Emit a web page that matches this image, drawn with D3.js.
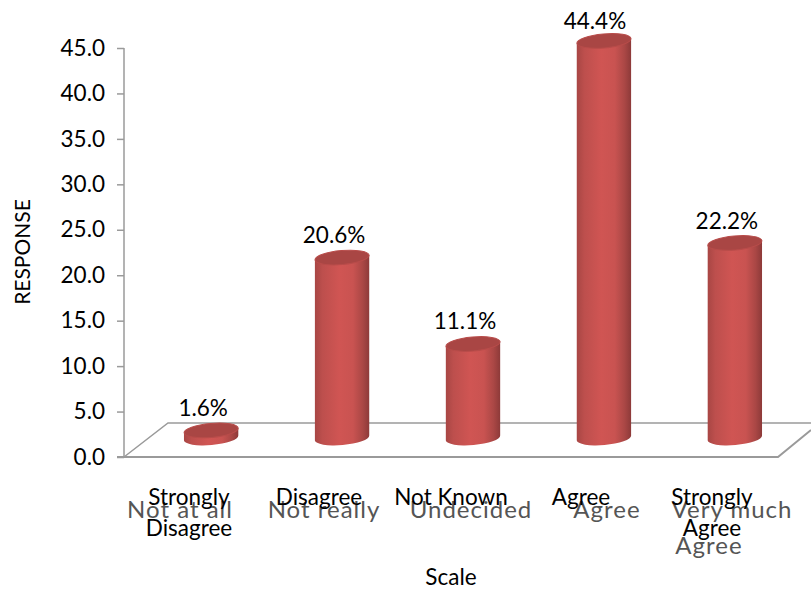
<!DOCTYPE html>
<html><head><meta charset="utf-8"><script src="https://cdn.jsdelivr.net/npm/d3@7"></script>
<style>html,body{margin:0;background:#fff}svg{display:block}text{font-family:Lato,"Open Sans",sans-serif}</style></head>
<body><svg id="c" width="811" height="592"></svg>
<script>
const categories=["Strongly Disagree","Disagree","Not Known","Agree","Strongly Agree"];
const values=[1.6,20.6,11.1,44.4,22.2];
const valueLabels=["1.6%","20.6%","11.1%","44.4%","22.2%"];
const tickValues=[0,5,10,15,20,25,30,35,40,45];
const categoryLines=[["Strongly","Disagree"],["Disagree"],["Not Known"],["Agree"],["Strongly","Agree"]];
const ghostLines=[["Not at all"],["Not really"],["Undecided"],["Agree"],["Very much","Agree"]];
const svg=d3.select("#c");
const y=d3.scaleLinear().domain([0,45]).range([457,48]);
const barY=d3.scaleLinear().domain([0,45]).range([445,35.5]);
const x=d3.scaleBand().domain(categories).range([146,800]).paddingInner(0.585).paddingOuter(0.29);
const defs=svg.append("defs");
const g=defs.append("linearGradient").attr("id","cyl");
[[0,"#a84644"],[.14,"#bd4f4d"],[.45,"#d05553"],[.7,"#c95351"],[.88,"#aa4745"],[1,"#8d3a39"]].forEach(s=>g.append("stop").attr("offset",s[0]).attr("stop-color",s[1]));
const fl=svg.append("g").attr("fill","none").attr("stroke","#9a9a9a");
fl.append("path").attr("stroke-width",1.5).attr("d","M124,457L168,423L811,423");
fl.append("path").attr("stroke-width",2).attr("d","M117,457L778,457L811,430");
const ax=svg.append("g").attr("transform","translate(124,0)").call(d3.axisLeft(y).tickValues(tickValues).tickFormat(d3.format(".1f")).tickSize(7).tickPadding(12));
ax.select(".domain").attr("stroke","#9a9a9a").attr("stroke-width",1.5).attr("d","M0,48V457");
ax.selectAll(".tick line").attr("stroke","#9a9a9a").attr("stroke-width",1.5);
ax.selectAll("text").attr("fill","#000").style("font-size","22.5px").style("font-family","Lato,sans-serif");
const w=x.bandwidth(),ry=7,tilt=-5;
const labelDx=[-8,-8,-8,-9,-8],labelDy=[14,15,15,12,14];
const bars=svg.selectAll(".bar").data(values).enter().append("g").attr("class","bar");
bars.each(function(v,i){
 const s=d3.select(this),cx=x(categories[i])+w/2,top=barY(v),base=barY(0)-7,rx=w/2,dy=rx*Math.tan(tilt*Math.PI/180);
 s.append("path").attr("fill","url(#cyl)").attr("d",`M${cx-rx},${top-dy}L${cx-rx},${base-dy}A${rx},${ry} ${tilt} 0 0 ${cx+rx},${base+dy}L${cx+rx},${top+dy}Z`);
 s.append("ellipse").attr("cx",cx).attr("cy",top).attr("rx",rx).attr("ry",ry).attr("fill","#a94644").attr("stroke","#b84c4a").attr("stroke-width",1).attr("transform",`rotate(${tilt} ${cx} ${top})`);
 svg.append("text").attr("x",cx+labelDx[i]).attr("y",top-labelDy[i]).attr("text-anchor","middle").style("font-size","22.5px").attr("fill","#000").text(valueLabels[i]);
});
const ghostX=[[180],[324],[471],[607],[732,709]];
ghostLines.forEach((ls,i)=>ls.forEach((t,j)=>svg.append("text").attr("x",ghostX[i][j]).attr("y",518+j*36).attr("text-anchor","middle").attr("fill","#555").style("font-size","24px").style("letter-spacing","1px").text(t)));
const catX=[189,319,451,581,712];
categoryLines.forEach((ls,i)=>ls.forEach((t,j)=>svg.append("text").attr("x",catX[i]).attr("y",505+j*31).attr("text-anchor","middle").attr("fill","#000").style("font-size","22.5px").text(t)));
svg.append("text").attr("x",451).attr("y",585).attr("text-anchor","middle").style("font-size","22.5px").text("Scale");
svg.append("text").attr("transform","translate(30,252) rotate(-90)").attr("text-anchor","middle").style("font-size","21px").text("RESPONSE");
</script></body></html>
